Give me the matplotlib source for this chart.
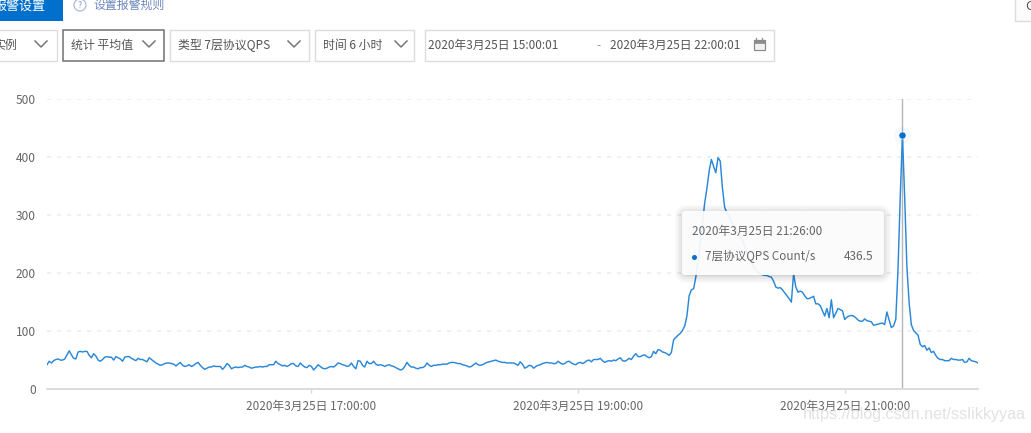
import matplotlib
matplotlib.use('Agg')
import numpy as np
import pandas as pd
import matplotlib.pyplot as plt
from matplotlib.patches import Rectangle, FancyBboxPatch, Circle

plt.rcParams['font.family'] = ['Noto Sans CJK SC', 'DejaVu Sans']

# Data, one value per minute ----------------------------------------------
qps_15_17 = [
    41, 47, 44, 48, 50, 51, 49, 49, 51, 58,
    65, 58, 52, 51, 63, 64, 63, 64, 64, 57,
    53, 60, 56, 49, 47, 50, 54, 55, 54, 54,
    49, 55, 53, 51, 47, 54, 55, 55, 52, 50,
    48, 52, 50, 50, 48, 46, 53, 50, 47, 44,
    42, 40, 41, 43, 44, 44, 43, 42, 39, 42,
    45, 40, 38, 39, 41, 38, 40, 43, 45, 40,
    36, 33, 35, 37, 37, 39, 38, 38, 38, 33,
    37, 43, 40, 34, 36, 37, 36, 37, 37, 40,
    38, 37, 35, 36, 37, 37, 38, 37, 38, 38,
    41, 41, 41, 47, 43, 41, 39, 40, 38, 40,
    43, 43, 39, 38, 44, 40, 37, 36, 40, 38,
]
qps_17_19 = [
    32, 36, 41, 38, 35, 34, 35, 37, 38, 37, 40, 44,
    43, 41, 40, 38, 39, 44, 38, 34, 48, 47, 40, 37,
    47, 43, 43, 47, 42, 40, 41, 40, 38, 40, 41, 39,
    38, 36, 34, 32, 33, 38, 45, 40, 37, 37, 35, 34,
    36, 36, 38, 44, 40, 38, 40, 40, 41, 41, 42, 42,
    42, 44, 45, 45, 44, 43, 43, 41, 40, 39, 37, 38,
    41, 44, 41, 40, 41, 43, 45, 46, 47, 48, 49, 47,
    46, 45, 45, 44, 44, 44, 44, 42, 40, 46, 42, 35,
    37, 40, 39, 35, 38, 40, 41, 43, 44, 45, 44, 44,
    43, 43, 47, 44, 42, 43, 46, 47, 44, 42, 41, 44,
]
qps_19_20 = [
    45, 43, 45, 48, 49, 46, 50, 50, 50, 52,
    48, 45, 47, 48, 47, 49, 48, 51, 53, 48,
    47, 49, 52, 50, 56, 60, 55, 55, 57, 58,
    55, 53, 55, 64, 60, 67, 66, 63, 62, 60,
    57, 62, 84, 88, 92, 95, 100, 108, 125, 160,
    170, 172, 192, 221, 250, 285, 320, 345, 375, 395,
]
qps_20_21 = [
    383, 372, 398, 392, 345, 312, 303, 295, 288, 280,
    272, 268, 261, 255, 245, 235, 225, 216, 210, 205,
    200, 198, 196, 195, 195, 193, 192, 185, 175, 173,
    174, 170, 165, 160, 155, 149, 198, 175, 166, 168,
    166, 160, 155, 155, 157, 159, 146, 146, 143, 134,
    125, 138, 122, 153, 122, 130, 138, 136, 134, 119,
]
qps_21_22 = [
    123, 125, 126, 125, 122, 118, 116, 116, 120, 117,
    116, 115, 109, 110, 111, 112, 113, 110, 132, 118,
    105, 108, 119, 206, 330, 436.5, 330, 210, 148, 110,
    100, 96, 92, 76, 72, 74, 66, 70, 62, 64,
    57, 52, 50, 50, 48, 48, 48, 52, 50, 50,
    49, 49, 50, 45, 46, 52, 48, 47, 46, 44,
]
qps = qps_15_17 + qps_17_19 + qps_19_20 + qps_20_21 + qps_21_22
assert len(qps) == 420, len(qps)

times = pd.date_range('2020-03-25 15:01', periods=len(qps), freq='min')
y_ticks = [0, 100, 200, 300, 400, 500]
x_ticks = pd.to_datetime(['2020-03-25 17:00', '2020-03-25 19:00', '2020-03-25 21:00'])
x_labels = ['2020年3月25日 17:00:00', '2020年3月25日 19:00:00', '2020年3月25日 21:00:00']
hover_time = pd.Timestamp('2020-03-25 21:26')
hover_value = 436.5

W, H = 1031, 433
BLUE = '#0070cc'
LINE = '#2b88d8'
BORDER = '#dcdcdc'
TEXT = '#555555'
TICK = '#666666'
FS = 8.6

fig = plt.figure(figsize=(W / 100, H / 100), dpi=100, facecolor='white')

# Page furniture, in pixel coordinates ---------------------------------
page = fig.add_axes([0, 0, 1, 1], zorder=0)
page.set_xlim(0, W)
page.set_ylim(H, 0)
page.axis('off')


def box(x0, x1, edge=BORDER, lw=1.0):
    page.add_patch(Rectangle((x0, 29.5), x1 - x0, 31, fc='white', ec=edge, lw=lw))


def chevron(x):
    page.plot([x - 6, x, x + 6], [41, 47, 41], color='#777777', lw=1.1)


page.add_patch(Rectangle((-2, -2), 65, 23, fc=BLUE, ec='none'))
page.text(46, 6, '报警设置', color='white', fontsize=9.4, ha='right', va='center')
page.add_patch(Circle((80, 5), 6, fc='white', ec='#a9b8dc', lw=0.9))
page.text(80, 5, '?', color='#8a9cc8', fontsize=6.5, ha='center', va='center')
page.text(93, 5, '设置报警规则', color='#6b86bd', fontsize=FS, va='center')

box(-5, 56.5)
box(62.5, 163.5, edge='#707070', lw=1.1)
box(169.5, 308.5)
box(314.5, 413.5)
box(424.5, 773.5)
for x in [41, 149, 294, 401]:
    chevron(x)
page.text(5.5, 45, '实例', color=TEXT, fontsize=FS, ha='center', va='center')
page.text(71, 45, '统计 平均值', color=TEXT, fontsize=FS, va='center')
page.text(178, 45, '类型 7层协议QPS', color=TEXT, fontsize=FS, va='center')
page.text(323, 45, '时间 6 小时', color=TEXT, fontsize=FS, va='center')
page.text(428, 45, '2020年3月25日 15:00:01', color=TEXT, fontsize=8.5, va='center')
page.text(599, 46, '-', color='#999999', fontsize=FS, ha='center', va='center')
page.text(610.5, 45, '2020年3月25日 22:00:01', color=TEXT, fontsize=8.5, va='center')

# calendar icon
page.add_patch(Rectangle((753.5, 39.5), 11, 10, fc='#f2f2f2', ec='#8c8c8c', lw=0.9))
page.add_patch(Rectangle((753.5, 39.5), 11, 3, fc='#8c8c8c', ec='#8c8c8c', lw=0.5))
page.plot([756, 756], [37.5, 40], color='#8c8c8c', lw=0.9)
page.plot([762, 762], [37.5, 40], color='#8c8c8c', lw=0.9)

page.add_patch(Rectangle((1014.5, -3), 25, 23.5, fc='#fbfbfb', ec=BORDER, lw=1))
page.text(1025, 6, 'C', color=TEXT, fontsize=9.5, ha='left', va='center')

# The chart itself -----------------------------------------------------
ax = fig.add_axes([47 / W, (H - 388.5) / H, (978 - 47) / W, 290 / H], zorder=1)
ax.patch.set_alpha(0)
ax.plot(times, qps, color=LINE, lw=1.05, solid_joinstyle='round')
ax.axvline(hover_time, color='#b5b5b5', lw=1.0, zorder=1)
ax.scatter([hover_time], [hover_value], s=150, color=BLUE, alpha=0.04, lw=0, zorder=3, clip_on=False)
ax.scatter([hover_time], [hover_value], s=26, color=BLUE, ec='white', lw=0.4, zorder=4, clip_on=False)

ax.set_xlim(times[0], times[-1])
ax.set_ylim(0, 500)
ax.set_yticks(y_ticks)
ax.set_xticks(x_ticks)
ax.set_xticklabels(x_labels)
ax.grid(axis='y', color='#eeeeee', lw=1.2, linestyle=(0, (2.5, 3.5)))
ax.set_axisbelow(True)
for s in ['top', 'right', 'left']:
    ax.spines[s].set_visible(False)
ax.spines['bottom'].set_color('#d9d9d9')
ax.spines['bottom'].set_linewidth(1.3)
ax.tick_params(axis='y', length=0, pad=8, labelcolor=TICK, labelsize=FS)
ax.tick_params(axis='x', length=3, width=1, color='#d9d9d9', pad=5, labelcolor=TICK, labelsize=8.45)

# Tooltip and watermark on top -----------------------------------------
top = fig.add_axes([0, 0, 1, 1], zorder=2)
top.set_xlim(0, W)
top.set_ylim(H, 0)
top.axis('off')
for grow, alpha in [(9, 0.025), (7, 0.03), (5, 0.035), (3, 0.04), (1.5, 0.05)]:
    top.add_patch(FancyBboxPatch((684 - grow, 213 - grow + 1), 198 + 2 * grow, 60 + 2 * grow,
                                 boxstyle='round,pad=0,rounding_size=%g' % (3 + grow),
                                 fc='black', ec='none', alpha=alpha))
top.add_patch(FancyBboxPatch((684, 213), 198, 60, boxstyle='round,pad=2,rounding_size=3',
                             fc='white', ec='none', alpha=0.92))
top.text(692, 231, '2020年3月25日 21:26:00', color=TICK, fontsize=8.5, va='center')
top.add_patch(Circle((694.5, 257.5), 2.5, fc=BLUE, ec='none'))
top.text(705, 256, '7层协议QPS Count/s', color=TICK, fontsize=8.4, va='center')
top.text(873, 256, str(hover_value), color=TICK, fontsize=FS, ha='right', va='center')
top.text(803, 415, 'https://blog.csdn.net/sslikkyyaa', color='#cfcfcf', alpha=0.6,
         fontsize=11.6, family='Liberation Sans', va='center')

fig.savefig('out.png', dpi=100)
